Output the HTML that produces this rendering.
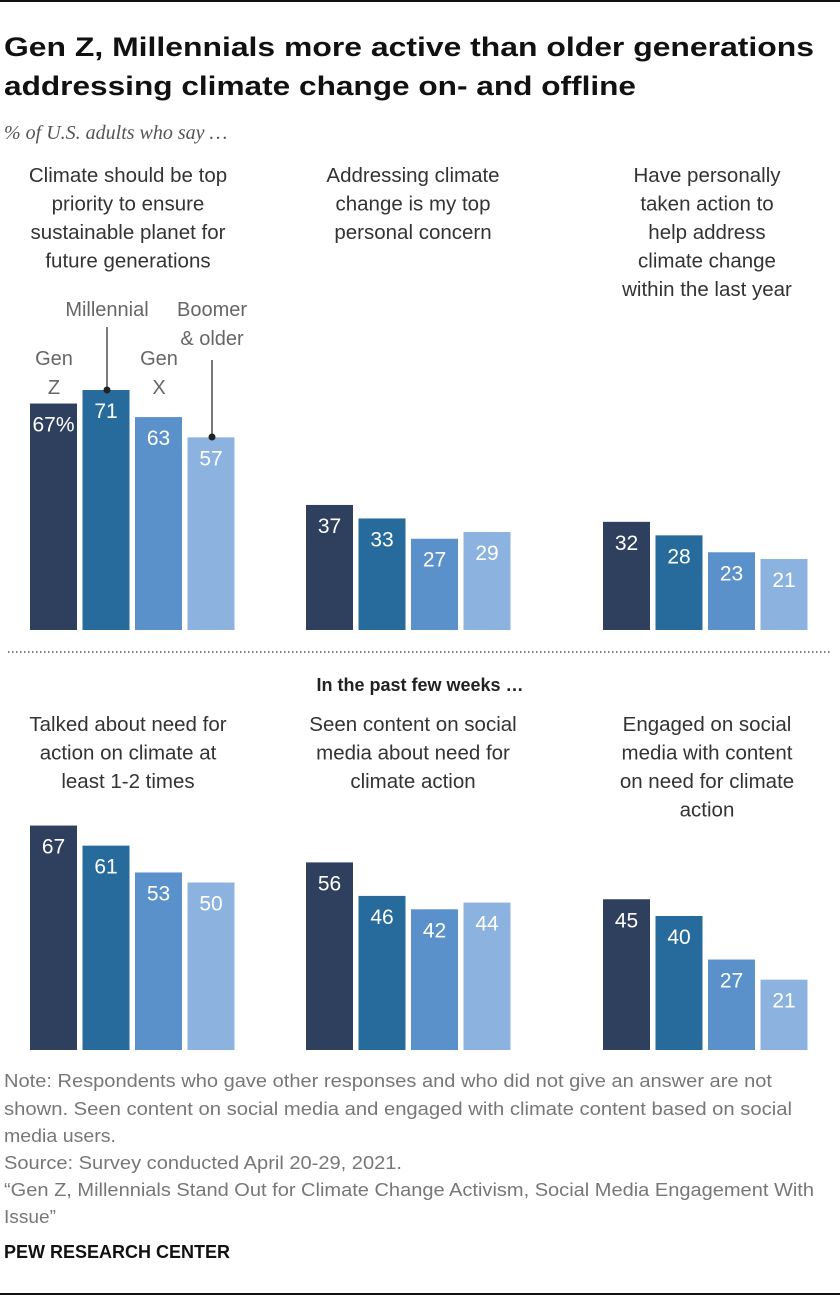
<!DOCTYPE html>
<html><head><meta charset="utf-8"><style>
body{margin:0;background:#fff}
svg{display:block;font-family:"Liberation Sans",sans-serif}
</style></head><body>
<svg id="chart" width="840" height="1298" viewBox="0 0 840 1298">
<rect x="0" y="0" width="840" height="2" fill="#111"/>
<g font-weight="bold" font-size="27" fill="#111">
<text x="4" y="56" textLength="810" lengthAdjust="spacingAndGlyphs">Gen Z, Millennials more active than older generations</text>
<text x="4" y="95" textLength="632" lengthAdjust="spacingAndGlyphs">addressing climate change on- and offline</text>
</g>
<text x="4" y="139" font-family="Liberation Serif,serif" font-style="italic" font-size="20" fill="#555">% of U.S. adults who say …</text>
<g id="titles" font-size="20.5" fill="#333" text-anchor="middle"></g>
<line x1="8" y1="652" x2="832" y2="652" stroke="#555" stroke-dasharray="1.5,2.5" stroke-width="1.5"/>
<text x="420" y="691" text-anchor="middle" font-weight="bold" font-size="18" fill="#222">In the past few weeks …</text>
<g id="bars"></g>
<g font-size="20" fill="#666">
<text x="54" y="365" text-anchor="middle">Gen</text><text x="54" y="394" text-anchor="middle">Z</text>
<text x="107" y="316" text-anchor="middle">Millennial</text>
<text x="159" y="365" text-anchor="middle">Gen</text><text x="159" y="394" text-anchor="middle">X</text>
<text x="212" y="316" text-anchor="middle">Boomer</text><text x="212" y="345" text-anchor="middle">&amp; older</text>
<line x1="107" y1="327" x2="107" y2="390" stroke="#222" stroke-width="1.2"/><circle cx="107" cy="390" r="3.5" fill="#222"/>
<line x1="212" y1="360" x2="212" y2="437" stroke="#222" stroke-width="1.2"/><circle cx="212" cy="437" r="3.5" fill="#222"/>
</g>
<g font-size="18" fill="#777">
<text x="4" y="1087" textLength="768" lengthAdjust="spacingAndGlyphs">Note: Respondents who gave other responses and who did not give an answer are not</text>
<text x="4" y="1115" textLength="788" lengthAdjust="spacingAndGlyphs">shown. Seen content on social media and engaged with climate content based on social</text>
<text x="4" y="1142" textLength="112" lengthAdjust="spacingAndGlyphs">media users.</text>
<text x="4" y="1169" textLength="398" lengthAdjust="spacingAndGlyphs">Source: Survey conducted April 20-29, 2021.</text>
<text x="4" y="1196" textLength="810" lengthAdjust="spacingAndGlyphs">“Gen Z, Millennials Stand Out for Climate Change Activism, Social Media Engagement With</text>
<text x="4" y="1223" textLength="52" lengthAdjust="spacingAndGlyphs">Issue”</text>
</g>
<text x="4" y="1258" font-size="18" font-weight="bold" fill="#111" textLength="226" lengthAdjust="spacingAndGlyphs">PEW RESEARCH CENTER</text>
<rect x="0" y="1293" width="840" height="2" fill="#111"/>
</svg>
<script>
const panelTitles = [
 ["Climate should be top","priority to ensure","sustainable planet for","future generations"],
 ["Addressing climate","change is my top","personal concern"],
 ["Have personally","taken action to","help address","climate change","within the last year"],
 ["Talked about need for","action on climate at","least 1-2 times"],
 ["Seen content on social","media about need for","climate action"],
 ["Engaged on social","media with content","on need for climate","action"]
];
const genZ = [67,37,32,67,56,45];
const millennial = [71,33,28,61,46,40];
const genX = [63,27,23,53,42,27];
const boomer = [57,29,21,50,44,21];
const series = [genZ, millennial, genX, boomer];
const colors = ["#2f405f","#266b9c","#5b91cb","#8cb3df"];
const panelX = [30,306,603,30,306,603];
const ns = "http://www.w3.org/2000/svg";
const T = document.getElementById('titles'), B = document.getElementById('bars');
function yScale(v, p){ const base = p<3?630:1050; const k = p<3?3.38:3.35; return [base - v*k, v*k]; }
panelTitles.forEach((lines,p)=>{
  const y0 = p<3?182:731;
  lines.forEach((s,i)=>{
    const t=document.createElementNS(ns,'text');
    t.setAttribute('x', p%3===0?128:(p%3===1?413:707)); t.setAttribute('y', y0+i*28.5); t.textContent=s;
    
    
    T.appendChild(t);
  });
  series.forEach((arr,si)=>{
    const v=arr[p]; const [y,h]=yScale(v,p); const x=panelX[p]+si*52.5;
    const r=document.createElementNS(ns,'rect');
    r.setAttribute('x',x); r.setAttribute('y',y); r.setAttribute('width',47); r.setAttribute('height',h); r.setAttribute('fill',colors[si]);
    
    
    B.appendChild(r);
    const t=document.createElementNS(ns,'text');
    t.setAttribute('x',x+23.5); t.setAttribute('y',y+28); t.setAttribute('text-anchor','middle');
    t.setAttribute('font-size','21'); t.setAttribute('fill','#fff');
    t.textContent = v + (p===0&&si===0?'%':'');
    
    
    B.appendChild(t);
  });
});
</script>
</body></html>
